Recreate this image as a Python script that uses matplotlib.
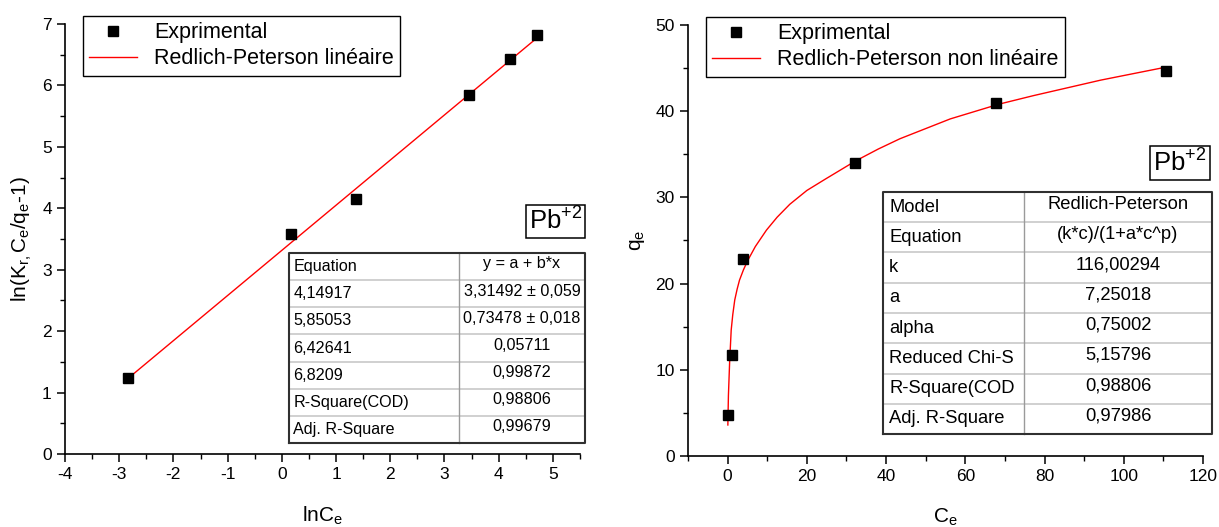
import matplotlib
matplotlib.use('Agg')
import matplotlib.pyplot as plt
from matplotlib.ticker import MultipleLocator
from matplotlib.lines import Line2D
import numpy as np

plt.rcParams['font.family'] = ['Liberation Sans', 'DejaVu Sans']
plt.rcParams['mathtext.fontset'] = 'custom'
plt.rcParams['mathtext.rm'] = 'Liberation Sans'
plt.rcParams['mathtext.it'] = 'Liberation Sans:italic'
plt.rcParams['mathtext.default'] = 'regular'
plt.rcParams['axes.unicode_minus'] = False

# linear form: ln(Kr Ce/qe - 1) vs ln Ce
ln_ce = [-2.83, 0.16, 1.37, 3.45, 4.20, 4.70]
ln_ratio = [1.23, 3.58, 4.14917, 5.85053, 6.42641, 6.8209]
intercept = 3.31492
slope = 0.73478
lin_rows = [
    ["Equation", "y = a + b*x"],
    ["4,14917", "3,31492 \u00b1 0,059"],
    ["5,85053", "0,73478 \u00b1 0,018"],
    ["6,42641", "0,05711"],
    ["6,8209", "0,99872"],
    ["R-Square(COD)", "0,98806"],
    ["Adj. R-Square", "0,99679"],
]

# non linear form: qe vs Ce
ce = [0.06, 1.2, 4.0, 32.2, 67.8, 110.6]
qe = [4.8, 11.7, 22.9, 34.0, 40.9, 44.7]
fit_c = [0.06, 0.2, 0.5, 0.9, 1.3, 1.8, 2.4, 3.0, 4.0, 5.1, 7.0, 9.8, 12.5,
         15.7, 20.0, 24.6, 32.2, 38.0, 43.5, 56.2, 68.4, 77.2, 94.2, 110.6]
fit_q = [3.6, 7.0, 10.8, 14.6, 16.4, 18.1, 19.35, 20.4, 21.6, 22.7, 24.3,
         26.2, 27.7, 29.2, 30.8, 32.1, 34.2, 35.6, 36.8, 39.1, 40.8, 41.8,
         43.6, 45.1]
nl_rows = [
    ["Model", "Redlich-Peterson"],
    ["Equation", "(k*c)/(1+a*c^p)"],
    ["k", "116,00294"],
    ["a", "7,25018"],
    ["alpha", "0,75002"],
    ["Reduced Chi-S", "5,15796"],
    ["R-Square(COD", "0,98806"],
    ["Adj. R-Square", "0,97986"],
]


def draw_table(ax, rows, x0, xm, x1, y_top, y_bot, fs, pad):
    n = len(rows)
    h = (y_top - y_bot) / n
    kw = dict(transform=ax.transAxes, clip_on=False)
    for i in range(1, n):
        y = y_top - i * h
        ax.plot([x0, x1], [y, y], color='#c8c8c8', lw=1.2, **kw)
    ax.plot([xm, xm], [y_bot, y_top], color='#9a9a9a', lw=1.0, **kw)
    ax.plot([x0, x1, x1, x0, x0], [y_bot, y_bot, y_top, y_top, y_bot],
            color='#303030', lw=1.5, **kw)
    for i, (name, val) in enumerate(rows):
        yc = y_top - (i + 0.5) * h
        ax.text(x0 + pad, yc, name, ha='left', va='center', fontsize=fs,
                transform=ax.transAxes)
        ax.text((xm + x1) / 2, yc + 0.1 * h, val, ha='center', va='center',
                fontsize=fs, transform=ax.transAxes)


def style_axes(ax):
    for side in ('top', 'right'):
        ax.spines[side].set_visible(False)
    for side in ('left', 'bottom'):
        ax.spines[side].set_linewidth(1.2)
    ax.tick_params(which='major', direction='out', length=6, width=1.1,
                   labelsize=12.5)
    ax.tick_params(which='minor', direction='out', length=3.5, width=1.0)


def add_legend(ax, label):
    handles = [
        Line2D([], [], ls='none', marker='s', color='black', ms=7.5),
        Line2D([], [], color='red', lw=1.0),
    ]
    leg = ax.legend(handles, ['Exprimental', label], loc='upper left',
                    bbox_to_anchor=(0.035, 1.0186), fancybox=False,
                    edgecolor='black', framealpha=1, fontsize=15.5,
                    handlelength=2.2, handletextpad=0.8, borderpad=0.3,
                    labelspacing=0.22, borderaxespad=0, numpoints=1)
    leg.get_frame().set_linewidth(1.0)


def pb_label(ax, x, y):
    ax.text(x, y, r'Pb$^{+2}$', transform=ax.transAxes, ha='center',
            va='center', fontsize=18.5,
            bbox=dict(boxstyle='square,pad=0.12', fc='white', ec='black',
                      lw=1.1))


fig = plt.figure(figsize=(12.19, 5.27), dpi=100)
ax1 = fig.add_axes([0.0533, 0.1385, 0.4225, 0.816])
ax2 = fig.add_axes([0.5644, 0.1347, 0.4225, 0.818])

# left panel
xl = np.array([ln_ce[0], ln_ce[-1]])
ax1.plot(xl, intercept + slope * xl, color='red', lw=1.0)
ax1.plot(ln_ce, ln_ratio, ls='none', marker='s', color='black', ms=7.5)
ax1.set_xlim(-4, 5.5)
ax1.set_ylim(0, 7)
ax1.xaxis.set_major_locator(MultipleLocator(1))
ax1.xaxis.set_minor_locator(MultipleLocator(0.5))
ax1.yaxis.set_major_locator(MultipleLocator(1))
ax1.yaxis.set_minor_locator(MultipleLocator(0.5))
style_axes(ax1)
ax1.set_xlabel(r'lnC$_e$', fontsize=15, labelpad=16)
ax1.set_ylabel(r'ln(K$_{r,}$C$_e$/q$_e$-1)', fontsize=15, labelpad=6)
add_legend(ax1, 'Redlich-Peterson lin\u00e9aire')
draw_table(ax1, lin_rows, 0.435, 0.765, 1.0097, 0.4674, 0.0256, 11.6, 0.008)
pb_label(ax1, 0.9524, 0.5407)

# right panel
ax2.plot(fit_c, fit_q, color='red', lw=1.0)
ax2.plot(ce, qe, ls='none', marker='s', color='black', ms=7.5)
ax2.set_xlim(-10, 120)
ax2.set_ylim(0, 50)
ax2.xaxis.set_major_locator(MultipleLocator(20))
ax2.xaxis.set_minor_locator(MultipleLocator(10))
ax2.yaxis.set_major_locator(MultipleLocator(10))
ax2.yaxis.set_minor_locator(MultipleLocator(5))
ax2.set_xticks(range(0, 121, 20))
style_axes(ax2)
ax2.set_xlabel(r'C$_e$', fontsize=15, labelpad=16)
ax2.set_ylabel(r'q$_e$', fontsize=15, labelpad=6)
add_legend(ax2, 'Redlich-Peterson non lin\u00e9aire')
draw_table(ax2, nl_rows, 0.3786, 0.6524, 1.0175, 0.6125, 0.051, 13.2, 0.012)
pb_label(ax2, 0.955, 0.680)

fig.savefig('out.png', dpi=100)
